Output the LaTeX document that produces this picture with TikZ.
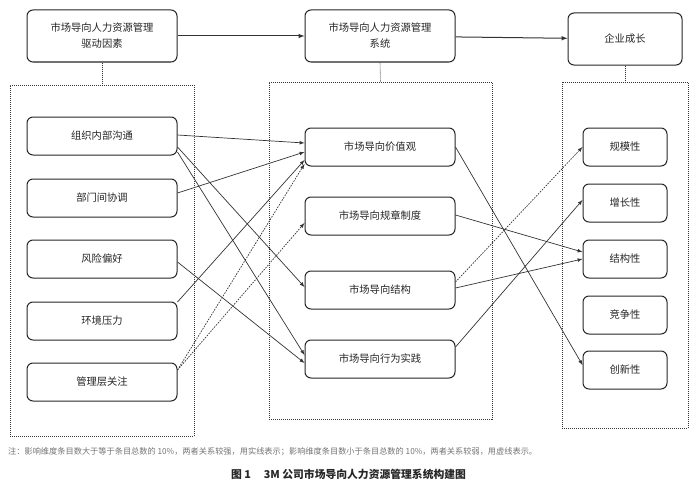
\documentclass[tikz,border=0pt]{standalone}
\usepackage{fontspec}
\setmainfont{Noto Sans CJK SC}
\usepackage{tikz}

\begin{document}
\begin{tikzpicture}[x=1pt, y=-1pt,
        every node/.style = {font=\fontsize{10.3}{16}\selectfont, text=black!85},
        box/.style = {shape=rectangle, rounded corners=6pt, draw=black!85,
                      line width=1pt, align=center, fill=white,
                      minimum height=38pt, inner sep=0pt},
        group/.style = {draw=black!80, line width=0.6pt,
                        dash pattern=on 1pt off 1pt, minimum width=0pt, inner sep=0pt},
        link/.style = {draw=black!80, line width=0.7pt, -latex},
        weak/.style = {link, dash pattern=on 1.6pt off 1.2pt}]
    \useasboundingbox (0,0) rectangle (698,487);

    % containers
    \node[group, minimum width=184pt, minimum height=351pt] (grpL) at (102,260.5) {};
    \node[group, minimum width=223pt, minimum height=337pt] (grpM) at (380.5,250.5) {};
    \node[group, minimum width=126pt, minimum height=346pt] (grpR) at (625,255) {};

    % top row
    \node[box, minimum width=150pt, minimum height=52pt] (drv) at (102,36)
        {市场导向人力资源管理\\驱动因素};
    \node[box, minimum width=150pt, minimum height=52pt] (sys) at (380,36)
        {市场导向人力资源管理\\系统};
    \node[box, minimum width=114pt, minimum height=52pt] (grow) at (625,39)
        {企业成长};
    \draw[link, line width=1pt] (drv) -- (sys);
    \draw[link, line width=1pt] (sys) -- (grow);
    \draw[group] (drv.south) -- (grpL.north);
    \draw[group] (sys.south) -- (grpM.north);
    \draw[group] (grow.south) -- (grpR.north);

    % drivers
    \node[box, minimum width=150pt] (comm)  at (102,136) {组织内部沟通};
    \node[box, minimum width=150pt] (coord) at (102,198) {部门间协调};
    \node[box, minimum width=150pt] (risk)  at (102,259) {风险偏好};
    \node[box, minimum width=150pt] (env)   at (102,321) {环境压力};
    \node[box, minimum width=150pt] (mgmt)  at (102,382) {管理层关注};

    % system
    \node[box, minimum width=150pt] (val)  at (380,147) {市场导向价值观};
    \node[box, minimum width=150pt] (rule) at (380,216) {市场导向规章制度};
    \node[box, minimum width=150pt] (str)  at (380,290) {市场导向结构};
    \node[box, minimum width=150pt] (act)  at (380,359) {市场导向行为实践};

    % growth
    \node[box, minimum width=84pt] (scale) at (625,147) {规模性};
    \node[box, minimum width=84pt] (incr)  at (625,203) {增长性};
    \node[box, minimum width=84pt] (struc) at (625,259) {结构性};
    \node[box, minimum width=84pt] (comp)  at (625,315) {竞争性};
    \node[box, minimum width=84pt] (innov) at (625,370) {创新性};

    % drivers -> system
    \draw[link] ([yshift=1pt]comm.east) -- ([yshift=4pt]val.west);
    \draw[link] ([yshift=-11pt]comm.east) -- ([yshift=3pt]str.west);
    \draw[link] ([yshift=-16pt]comm.east) -- ([yshift=4pt]act.west);
    \draw[link] ([yshift=5pt]coord.east) -- ([yshift=-5pt]val.west);
    \draw[link] ([yshift=-3pt]risk.east) -- ([yshift=-4pt]act.west);
    \draw[link] ([yshift=19pt]env.east) -- ([yshift=-13pt]val.west);
    \draw[weak] ([yshift=12pt]mgmt.east) -- ([yshift=-17pt]val.west);
    \draw[weak] ([yshift=12pt]mgmt.east) -- ([yshift=-7pt]rule.west);

    % system -> growth
    \draw[link] (val.east) -- ([yshift=5pt]innov.west);
    \draw[link] ([yshift=1pt]rule.east) -- ([yshift=7pt]struc.west);
    \draw[weak] ([yshift=8pt]str.east) -- (scale.west);
    \draw[link] ([yshift=2pt]str.east) -- (struc.west);
    \draw[link] ([yshift=12pt]act.east) -- ([yshift=3pt]incr.west);

    % note and caption
    \node[anchor=west, inner sep=0pt, text=black!55, font=\fontsize{8.2}{9}\selectfont] (note) at (8,452)
        {注：影响维度条目数大于等于条目总数的 10\%，两者关系较强，用实线表示；影响维度条目数小于条目总数的 10\%，两者关系较弱，用虚线表示。};
    \node[inner sep=0pt, font=\fontsize{10.8}{12}\selectfont\bfseries] (cap) at (348.5,474)
        {图 1\hspace{1.2em}3M 公司市场导向人力资源管理系统构建图};
\end{tikzpicture}
\end{document}
